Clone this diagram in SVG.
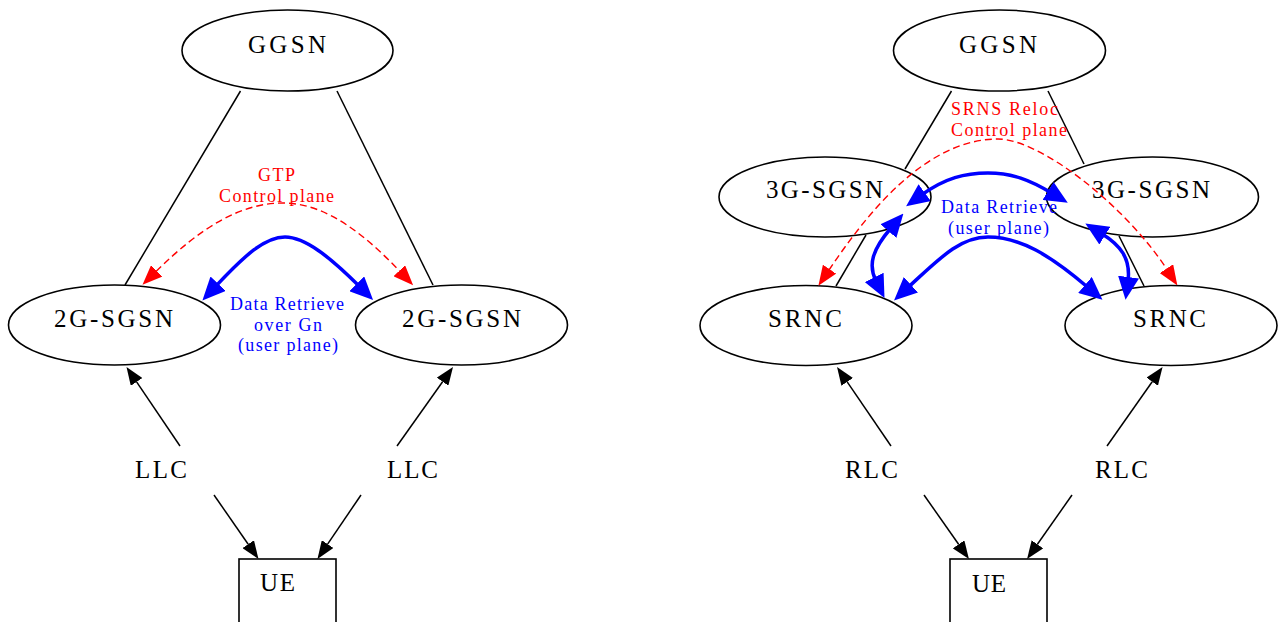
<svg xmlns="http://www.w3.org/2000/svg" width="1280" height="622" viewBox="0 0 1280 622">
<style>
.node{fill:#fff;stroke:#000;stroke-width:1.6}
.t{font-family:"Liberation Serif","Times New Roman",serif;font-size:25px;fill:#000}
.lr{font-family:"Liberation Serif","Times New Roman",serif;font-size:18px;fill:#f00}
.lb{font-family:"Liberation Serif","Times New Roman",serif;font-size:18px;fill:#00f}
.e{fill:none;stroke:#000;stroke-width:1.5}
.ea{fill:none;stroke:#000;stroke-width:1.5;marker-end:url(#ah)}
.er{fill:none;stroke:#f00;stroke-width:1.4;stroke-dasharray:7,4;marker-start:url(#ahr);marker-end:url(#ahr)}
.eb{fill:none;stroke:#00f;stroke-width:3.5;marker-start:url(#ahb);marker-end:url(#ahb)}
</style>
<defs>
<marker id="ah" markerUnits="userSpaceOnUse" viewBox="0 0 18 14" markerWidth="18" markerHeight="14" refX="0" refY="7" orient="auto-start-reverse"><path d="M0,0L18,7L0,14z" fill="#000"/></marker>
<marker id="ahr" markerUnits="userSpaceOnUse" viewBox="0 0 20 16" markerWidth="20" markerHeight="16" refX="1" refY="8" orient="auto-start-reverse"><path d="M0,0L20,8L0,16z" fill="#f00"/></marker>
<marker id="ahb" markerUnits="userSpaceOnUse" viewBox="0 0 23 21" markerWidth="23" markerHeight="21" refX="4" refY="10.5" orient="auto-start-reverse"><path d="M0,0L23,10.5L0,21z" fill="#00f"/></marker>
</defs>
<rect width="1280" height="622" fill="#fff"/>

<g id="connectors">
<line class="e" x1="240.5" y1="91" x2="125" y2="285"/>
<line class="e" x1="337" y1="91" x2="433" y2="285"/>
<line class="ea" x1="180" y1="446" x2="136.6" y2="381.9"/>
<line class="ea" x1="397" y1="446" x2="442.6" y2="381.7"/>
<line class="ea" x1="214" y1="495" x2="248.2" y2="544.2"/>
<line class="ea" x1="361" y1="495" x2="327.6" y2="544.1"/>
<path class="er" d="M156,271.5 C200,228 240,203 283,203 C328,203 368,238 400,271.5"/>
<path class="eb" d="M215.4,286.6 C245,255 265,237 285,237 C305,237 330,257 359.6,286.6"/>
<line class="e" x1="951.5" y1="91" x2="905" y2="169"/>
<line class="e" x1="866" y1="235" x2="836" y2="286"/>
<line class="e" x1="1048" y1="91" x2="1084" y2="164"/>
<line class="e" x1="1119" y1="236" x2="1144" y2="286"/>
<line class="ea" x1="891" y1="446" x2="847.2" y2="381.9"/>
<line class="ea" x1="1107" y1="446" x2="1152.2" y2="381.7"/>
<line class="ea" x1="924" y1="495" x2="958.6" y2="544.3"/>
<line class="ea" x1="1072" y1="495" x2="1037.4" y2="544.3"/>
</g>

<g id="ggsn-l"><ellipse class="node" cx="287.5" cy="50.5" rx="105.5" ry="40.5"/><text class="t" x="248" y="53" textLength="78">GGSN</text></g>
<g id="sgsn2g-l"><ellipse class="node" cx="114.5" cy="325" rx="106" ry="40"/><text class="t" x="54" y="327" textLength="119">2G-SGSN</text></g>
<g id="sgsn2g-r"><ellipse class="node" cx="461.5" cy="325" rx="106" ry="40"/><text class="t" x="402" y="327" textLength="119">2G-SGSN</text></g>
<g id="llc-l"><text class="t" x="135" y="478" textLength="52">LLC</text></g>
<g id="llc-r"><text class="t" x="387" y="478" textLength="51">LLC</text></g>
<g id="ue-l"><rect class="node" x="239" y="559" width="97" height="80"/><text class="t" x="260" y="591" textLength="35">UE</text></g>

<g id="ggsn-r"><ellipse class="node" cx="999.5" cy="50.5" rx="106" ry="40.5"/><text class="t" x="959" y="53" textLength="78">GGSN</text></g>
<g id="sgsn3g-l"><ellipse class="node" cx="825" cy="197" rx="106" ry="40"/><text class="t" x="766" y="198" textLength="117">3G-SGSN</text></g>
<g id="sgsn3g-r"><ellipse class="node" cx="1152.5" cy="197" rx="106" ry="40"/><text class="t" x="1092" y="198" textLength="118">3G-SGSN</text></g>
<g id="srnc-l"><ellipse class="node" cx="806" cy="325.5" rx="106" ry="40"/><text class="t" x="768" y="327" textLength="74">SRNC</text></g>
<g id="srnc-r"><ellipse class="node" cx="1171" cy="325.5" rx="106" ry="40"/><text class="t" x="1133" y="327" textLength="73">SRNC</text></g>
<g id="rlc-l"><text class="t" x="845" y="478" textLength="53">RLC</text></g>
<g id="rlc-r"><text class="t" x="1095" y="478" textLength="53">RLC</text></g>
<g id="ue-r"><rect class="node" x="950" y="559" width="97" height="80"/><text class="t" x="972" y="592" textLength="34">UE</text></g>

<g id="overlay-connectors">
<path class="er" d="M829,270 C866,215 925,139 998,139 C1040,139 1125,205 1167,269.5"/>
<path class="eb" d="M921.5,195 C945,178 965,173 988,173 C1012,173 1030,180 1051.5,193"/>
<path class="eb" d="M891,228 C872,250 868,265 876,281"/>
<path class="eb" d="M908,287.5 C940,258 960,237 988,237 C1020,237 1050,255 1088,287.5"/>
<path class="eb" d="M1101.5,233.5 C1120,245 1131,258 1128,281"/>
</g>

<g id="edge-labels">
<text class="lr" x="258" y="181" textLength="37">GTP</text>
<text class="lr" x="219" y="202" textLength="115">Control plane</text>
<text class="lb" x="230" y="310" textLength="114">Data Retrieve</text>
<text class="lb" x="254" y="330.5" textLength="68">over Gn</text>
<text class="lb" x="238" y="351" textLength="100">(user plane)</text>
<text class="lr" x="951" y="115" textLength="107">SRNS Reloc</text>
<text class="lr" x="951" y="136" textLength="116">Control plane</text>
<text class="lb" x="941" y="212.5" textLength="116">Data Retrieve</text>
<text class="lb" x="948" y="234" textLength="101">(user plane)</text>
</g>
</svg>
